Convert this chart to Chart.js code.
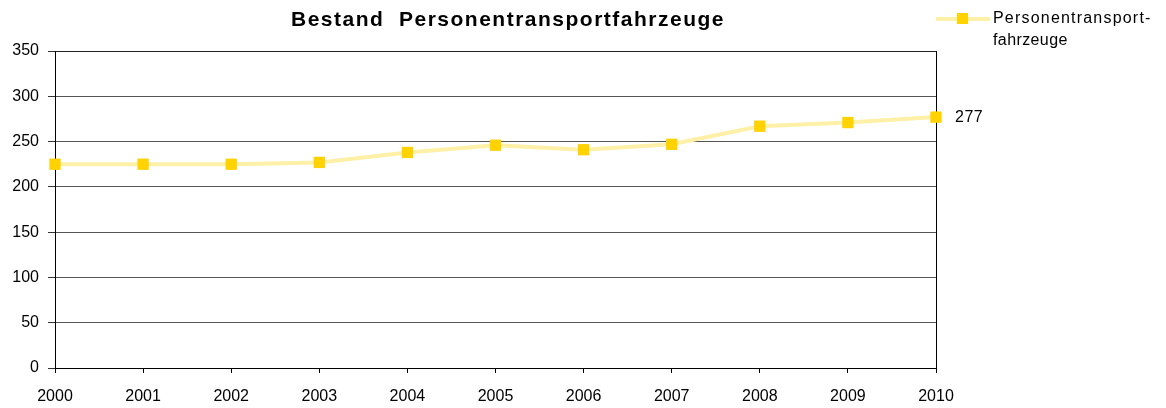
<!DOCTYPE html>
<html>
<head>
<meta charset="utf-8">
<script src="https://cdn.jsdelivr.net/npm/chart.js"></script>
<style>
  html, body { margin: 0; padding: 0; background: #fff; }
  #wrap { width: 1166px; height: 408px; position: relative; }
</style>
</head>
<body>
<div id="wrap"><canvas id="bestandChart" width="1166" height="408"></canvas></div>
<script>
const years = ['2000', '2001', '2002', '2003', '2004', '2005', '2006', '2007', '2008', '2009', '2010'];
const fahrzeuge = [225, 225, 225, 227, 238, 246, 241, 247, 267, 271, 277];
const seriesName = ['Personentransport-', 'fahrzeuge'];
const chartTitle = 'Bestand  Personentransportfahrzeuge';

const FONT = '"Liberation Sans", Arial, sans-serif';
const LINE_COLOR = '#FFF0A8';
const MARK_COLOR = '#FFD200';

// title, legend and the label of the last point
const extras = {
  id: 'extras',
  afterDraw(chart) {
    const ctx = chart.ctx;
    ctx.save();
    ctx.fillStyle = '#000';
    ctx.font = 'bold 21px ' + FONT;
    ctx.letterSpacing = '1.5px';
    ctx.textAlign = 'center';
    ctx.textBaseline = 'middle';
    ctx.fillText(chartTitle, 508, 20);

    // legend
    ctx.strokeStyle = LINE_COLOR;
    ctx.lineWidth = 4;
    ctx.beginPath();
    ctx.moveTo(936, 19);
    ctx.lineTo(990, 19);
    ctx.stroke();
    ctx.fillStyle = MARK_COLOR;
    ctx.fillRect(957, 13, 11, 11);
    ctx.fillStyle = '#000';
    ctx.font = '16px ' + FONT;
    ctx.letterSpacing = '1.2px';
    ctx.textAlign = 'left';
    ctx.fillText(seriesName[0], 993, 19);
    ctx.letterSpacing = '0.4px';
    ctx.fillText(seriesName[1], 993, 41);

    // value label at the last point
    const meta = chart.getDatasetMeta(0);
    const last = meta.data[meta.data.length - 1];
    ctx.letterSpacing = '0.5px';
    ctx.font = '16px ' + FONT;
    ctx.fillText(String(fahrzeuge[fahrzeuge.length - 1]), last.x + 19, last.y);
    ctx.restore();
  }
};

const ctx = document.getElementById('bestandChart').getContext('2d');
new Chart(ctx, {
  type: 'line',
  data: {
    labels: years,
    datasets: [{
      label: seriesName.join(''),
      data: fahrzeuge,
      borderColor: LINE_COLOR,
      borderWidth: 4,
      backgroundColor: MARK_COLOR,
      pointStyle: 'rect',
      pointRadius: 8,
      pointBorderWidth: 0,
      pointBackgroundColor: MARK_COLOR,
      tension: 0,
      clip: false
    }]
  },
  options: {
    responsive: false,
    animation: false,
    events: [],
    layout: { padding: { top: 51, right: 230, left: 0, bottom: 0 } },
    plugins: {
      legend: { display: false },
      title: { display: false },
      tooltip: { enabled: false }
    },
    scales: {
      x: {
        offset: false,
        afterFit(scale) { scale.height = 40; },
        border: { color: '#000', width: 1 },
        grid: {
          color: (c) => c.index === years.length - 1 ? '#000' : 'rgba(0,0,0,0)',
          tickColor: '#000',
          tickLength: 5,
          drawOnChartArea: true
        },
        ticks: {
          color: '#000',
          font: { family: FONT, size: 16 },
          padding: 14,
          maxRotation: 0,
          autoSkip: false
        }
      },
      y: {
        min: 0,
        max: 350,
        afterFit(scale) { scale.width = 55; },
        border: { color: '#000', width: 1 },
        grid: {
          color: (c) => c.tick.value === 350 ? '#222' : '#555',
          tickColor: '#333',
          tickLength: 7
        },
        ticks: {
          stepSize: 50,
          color: '#000',
          font: { family: FONT, size: 16 },
          padding: 9
        }
      }
    }
  },
  plugins: [extras]
});
</script>
</body>
</html>
